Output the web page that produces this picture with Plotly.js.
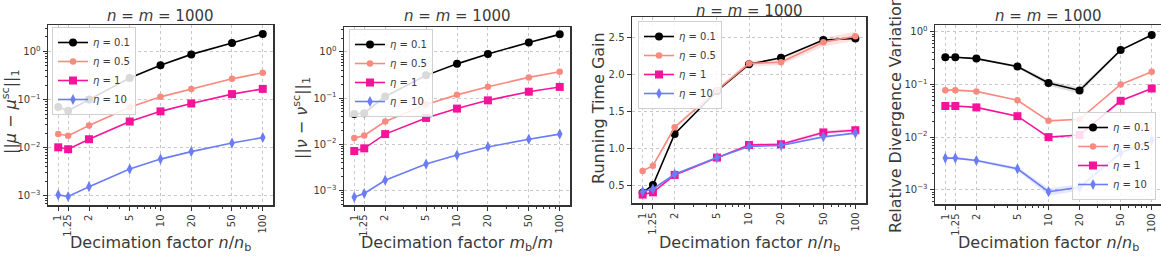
<!DOCTYPE html>
<html><head><meta charset="utf-8">
<script src="https://cdn.plot.ly/plotly-3.0.1.min.js"></script>
<style>html,body{margin:0;padding:0;background:#fff}#chart{width:1161px;height:257px}</style>
</head><body><div id="chart"></div>
<script>
// ---- data ----
const decimation = [1, 1.25, 2, 5, 10, 20, 50, 100];
const decimationLabels = ['1', '1.25', '2', '5', '10', '20', '50', '100'];
const etaNames = ['<i>η</i> = 0.1', '<i>η</i> = 0.5', '<i>η</i> = 1', '<i>η</i> = 10'];

const muErr_eta01 = [0.070, 0.059, 0.100, 0.28, 0.52, 0.87, 1.50, 2.30];
const muErr_eta05 = [0.0193, 0.0178, 0.029, 0.069, 0.114, 0.167, 0.27, 0.36];
const muErr_eta1  = [0.0102, 0.0093, 0.015, 0.035, 0.057, 0.083, 0.13, 0.167];
const muErr_eta10 = [0.00105, 0.00097, 0.00155, 0.0036, 0.0058, 0.0083, 0.0125, 0.0163];

const nuErr_eta01 = [0.045, 0.047, 0.108, 0.31, 0.55, 0.90, 1.60, 2.40];
const nuErr_eta05 = [0.0135, 0.0154, 0.031, 0.072, 0.117, 0.175, 0.28, 0.37];
const nuErr_eta1  = [0.0071, 0.0081, 0.0165, 0.037, 0.059, 0.089, 0.137, 0.174];
const nuErr_eta10 = [0.00071, 0.00085, 0.00165, 0.0037, 0.0058, 0.0087, 0.0128, 0.0165];

const gain_eta01 = [0.405, 0.51, 1.20, 1.78, 2.14, 2.23, 2.47, 2.49];
const gain_eta05 = [0.70, 0.77, 1.29, 1.79, 2.15, 2.17, 2.44, 2.52];
const gain_eta1  = [0.38, 0.41, 0.645, 0.88, 1.05, 1.06, 1.22, 1.25];
const gain_eta10 = [0.42, 0.455, 0.655, 0.88, 1.03, 1.045, 1.16, 1.21];
// spread (std) of the running time gain, shown as shaded bands
const gain_eta05_std = [0.01, 0.01, 0.02, 0.03, 0.04, 0.04, 0.06, 0.06];
const gain_eta1_std  = [0.01, 0.01, 0.01, 0.015, 0.02, 0.02, 0.025, 0.025];

const relDiv_eta01 = [0.33, 0.33, 0.31, 0.22, 0.107, 0.077, 0.45, 0.87];
const relDiv_eta05 = [0.078, 0.078, 0.074, 0.050, 0.0204, 0.0218, 0.10, 0.174];
const relDiv_eta1  = [0.039, 0.039, 0.0367, 0.025, 0.010, 0.011, 0.049, 0.084];
const relDiv_eta10 = [0.0040, 0.0040, 0.0036, 0.0025, 0.00092, 0.00112, 0.0050, 0.0087];
// spread (std) of the relative divergence variation
const relDiv_eta01_std = [0.01, 0.01, 0.01, 0.012, 0.012, 0.01, 0.02, 0.03];
const relDiv_eta10_std = [0.0002, 0.0002, 0.0002, 0.0002, 0.00015, 0.00015, 0.0003, 0.0004];

const logTickVals = [0.001, 0.01, 0.1, 1];
const logTickText = ['10<sup>−3</sup>', '10<sup>−2</sup>', '10<sup>−1</sup>', '10<sup>0</sup>'];
const gainTickVals = [0.5, 1.0, 1.5, 2.0, 2.5];
const gainTickText = ['0.5', '1.0', '1.5', '2.0', '2.5'];

const panelTitle = '<i>n</i> = <i>m</i> = 1000';
const xTitles = ['Decimation factor <i>n</i>/<i>n</i><sub>b</sub>', 'Decimation factor <i>m</i><sub>b</sub>/<i>m</i>',
                 'Decimation factor <i>n</i>/<i>n</i><sub>b</sub>', 'Decimation factor <i>n</i>/<i>n</i><sub>b</sub>'];
const yTitles = ['||<i>μ</i> − <i>μ</i><sup>sc</sup>||<sub>1</sub>', '||<i>ν</i> − <i>ν</i><sup>sc</sup>||<sub>1</sub>',
                 'Running Time Gain', 'Relative Divergence Variation'];

// ---- styling ----
const W = 1161, H = 257;
const colors = ['#000000', '#f98a80', '#f5139a', '#6b7cf4'];
const bandColors = ['rgba(0,0,0,0.13)', 'rgba(249,100,90,0.18)', 'rgba(245,19,154,0.15)', 'rgba(107,124,244,0.18)'];
const symbols = ['circle', 'circle', 'square', 'diamond-tall'];
const msizes = [8, 6.5, 8, 8];
const FONT = 'DejaVu Sans, sans-serif';
const TXT = '#3a3a3a';

// panel frames in pixels [left, right, top, bottom]
const frames = [[48, 273, 25, 205], [344, 570, 27, 205], [632, 866, 17, 203], [935, 1161, 25, 204]];
const yRanges = [[-3.19, 0.55], [-3.32, 0.54], [0.266, 2.78], [-3.27, 0.13]];
const xRanges = [[-0.1, 2.1], [-0.1, 2.1], [-0.1, 2.1], [-0.1, 2.09]];
const yIsLog = [true, true, false, true];
const yTitleX = [10, 302, 598, 895];
const yTitleY = [112, 118, 108, 114];
const titleY = [16, 16, 11, 16];

const panels = [
  [muErr_eta01, muErr_eta05, muErr_eta1, muErr_eta10],
  [nuErr_eta01, nuErr_eta05, nuErr_eta1, nuErr_eta10],
  [gain_eta01, gain_eta05, gain_eta1, gain_eta10],
  [relDiv_eta01, relDiv_eta05, relDiv_eta1, relDiv_eta10]
];
const bands = [
  [null, null, null, null],
  [null, null, null, null],
  [null, gain_eta05_std, gain_eta1_std, null],
  [relDiv_eta01_std, null, null, relDiv_eta10_std]
];

const xMinor = [];
[1, 10].forEach(d => { for (let k = 2; k <= 9; k++) { if (k !== 2 && k !== 5) xMinor.push(k * d); } });
const yMinor = [];
for (let e = -4; e <= 0; e++) { for (let k = 2; k <= 9; k++) yMinor.push(k * Math.pow(10, e)); }

const data = [];
panels.forEach((series, p) => {
  const ax = p === 0 ? '' : String(p + 1);
  // shaded spread bands first
  series.forEach((ys, i) => {
    const sd = bands[p][i];
    if (!sd) return;
    const upper = ys.map((v, k) => v + sd[k]);
    const lower = ys.map((v, k) => v - sd[k]);
    data.push({
      x: decimation.concat(decimation.slice().reverse()),
      y: upper.concat(lower.slice().reverse()),
      type: 'scatter', mode: 'lines', fill: 'toself', fillcolor: bandColors[i],
      line: {width: 0, color: 'rgba(0,0,0,0)'}, showlegend: false, hoverinfo: 'skip',
      xaxis: 'x' + ax, yaxis: 'y' + ax, legend: 'legend' + ax
    });
  });
  series.forEach((ys, i) => {
    data.push({
      x: decimation, y: ys, type: 'scatter', mode: 'lines+markers',
      name: etaNames[i], xaxis: 'x' + ax, yaxis: 'y' + ax,
      legend: 'legend' + ax,
      line: {color: colors[i], width: 1.6},
      marker: {color: colors[i], symbol: symbols[i], size: msizes[i]}
    });
  });
});

const layout = {
  width: W, height: H, margin: {l: 0, r: 0, t: 0, b: 0},
  paper_bgcolor: '#fff', plot_bgcolor: '#fff',
  font: {family: FONT, color: TXT, size: 10},
  annotations: []
};

frames.forEach((f, p) => {
  const ax = p === 0 ? '' : String(p + 1);
  const xa = {
    type: 'log', range: xRanges[p], domain: [f[0] / W, f[1] / W],
    anchor: 'y' + ax, tickmode: 'array', tickvals: decimation, ticktext: decimationLabels,
    tickangle: -90, ticks: 'outside', ticklen: 4, tickcolor: '#333', tickfont: {size: 10, color: TXT},
    showline: true, mirror: true, linecolor: '#333', linewidth: 1.5,
    showgrid: true, gridcolor: '#c8c8c8', griddash: 'dot', gridwidth: 1, zeroline: false,
    minor: {tickmode: 'array', tickvals: xMinor, ticks: 'outside', ticklen: 2, tickcolor: '#333', showgrid: false}
  };
  const ya = {
    domain: [1 - f[3] / H, 1 - f[2] / H], range: yRanges[p], anchor: 'x' + ax,
    ticks: 'outside', ticklen: 4, tickcolor: '#333', tickfont: {size: 10, color: TXT},
    showline: true, mirror: true, linecolor: '#333', linewidth: 1.5,
    showgrid: true, gridcolor: '#c8c8c8', griddash: 'dot', gridwidth: 1, zeroline: false,
    tickmode: 'array'
  };
  if (yIsLog[p]) {
    ya.type = 'log'; ya.tickvals = logTickVals; ya.ticktext = logTickText;
    ya.minor = {tickmode: 'array', tickvals: yMinor, ticks: 'outside', ticklen: 2, tickcolor: '#333', showgrid: false};
  } else {
    ya.type = 'linear'; ya.tickvals = gainTickVals; ya.ticktext = gainTickText;
  }
  layout['xaxis' + ax] = xa;
  layout['yaxis' + ax] = ya;

  const cx = (f[0] + f[1]) / 2 / W;
  layout.annotations.push({
    text: panelTitle, xref: 'paper', yref: 'paper', x: cx, y: 1 - titleY[p] / H,
    xanchor: 'center', yanchor: 'middle', showarrow: false, font: {size: 15, color: TXT}
  });
  layout.annotations.push({
    text: xTitles[p], xref: 'paper', yref: 'paper', x: cx, y: 1 - 243 / H,
    xanchor: 'center', yanchor: 'middle', showarrow: false, font: {size: 16, color: TXT}
  });
  layout.annotations.push({
    text: yTitles[p], xref: 'paper', yref: 'paper', x: yTitleX[p] / W, y: 1 - yTitleY[p] / H,
    xanchor: 'center', yanchor: 'middle', textangle: -90, showarrow: false, font: {size: 16, color: TXT}
  });
});

const legendBase = {
  bgcolor: 'rgba(255,255,255,0.85)', bordercolor: '#d0d0d0', borderwidth: 1,
  font: {size: 10, color: TXT}, itemwidth: 30, tracegroupgap: 0
};
layout.legend  = Object.assign({}, legendBase, {x: 52 / W, y: 1 - 27 / H, xanchor: 'left', yanchor: 'top'});
layout.legend2 = Object.assign({}, legendBase, {x: 349 / W, y: 1 - 29 / H, xanchor: 'left', yanchor: 'top'});
layout.legend3 = Object.assign({}, legendBase, {x: 638 / W, y: 1 - 21 / H, xanchor: 'left', yanchor: 'top'});
layout.legend4 = Object.assign({}, legendBase, {x: 1156 / W, y: 1 - 200 / H, xanchor: 'right', yanchor: 'bottom'});

Plotly.newPlot('chart', data, layout, {displayModeBar: false, staticPlot: true});
</script></body></html>
